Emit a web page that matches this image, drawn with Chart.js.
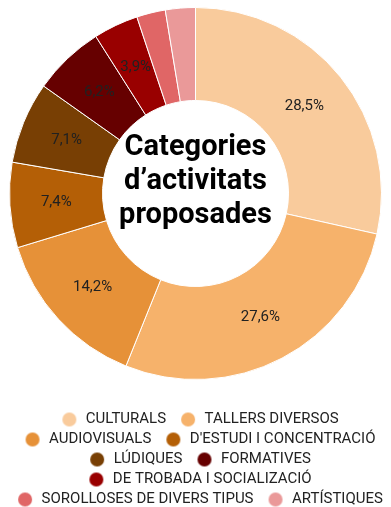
<!DOCTYPE html>
<html>
<head>
<meta charset="utf-8">
<script src="https://cdn.jsdelivr.net/npm/chart.js@4/dist/chart.umd.min.js"></script>
<style>
	body { margin: 0; background: #fff; }
	#wrap { width: 391px; height: 507px; position: relative; }
</style>
</head>
<body>
<div id="wrap"><canvas id="pieChart"></canvas></div>
<script>
// Categories and shares (%)
const categories = ['CULTURALS', 'TALLERS DIVERSOS', 'AUDIOVISUALS', "D'ESTUDI I CONCENTRACIÓ", 'LÚDIQUES', 'FORMATIVES', 'DE TROBADA I SOCIALIZACIÓ', 'SOROLLOSES DE DIVERS TIPUS', 'ARTÍSTIQUES'];
const shares = [28.5, 27.6, 14.2, 7.4, 7.1, 6.2, 3.9, 2.5, 2.6];
const colours = ['#f9cb9c', '#f6b26b', '#e69138', '#b45f06', '#783f04', '#660000', '#990000', '#e06666', '#ea9999'];
const centerLines = ['Categories', 'd\u2019activitats', 'proposades'];

const ctx = document.getElementById('pieChart').getContext('2d');

// legend markers: circle sitting in the right part of a wider box, so items get some air
const markerW = 26;
const markers = colours.map((c) => {
	const m = document.createElement('canvas');
	m.width = markerW;
	m.height = 16;
	const mc = m.getContext('2d');
	mc.fillStyle = c;
	mc.beginPath();
	mc.arc(markerW - 9, 8, 7, 0, Math.PI * 2);
	mc.fill();
	return m;
});

// percent labels inside the slices
const sliceLabels = {
	id: 'sliceLabels',
	afterDatasetsDraw(chart) {
		const { ctx } = chart;
		const meta = chart.getDatasetMeta(0);
		ctx.save();
		ctx.font = '15px Roboto';
		ctx.fillStyle = '#212121';
		ctx.textAlign = 'center';
		ctx.textBaseline = 'middle';
		meta.data.forEach((arc, i) => {
			const v = shares[i];
			if (v < 3.5) return;
			const p = arc.tooltipPosition();
			ctx.fillText(v.toFixed(1).replace('.', ',') + '%', p.x, p.y);
		});
		ctx.restore();
	}
};

// title in the hole
const centerText = {
	id: 'centerText',
	afterDatasetsDraw(chart) {
		const { ctx } = chart;
		const arc = chart.getDatasetMeta(0).data[0];
		ctx.save();
		ctx.font = 'bold 29px Roboto';
		ctx.fillStyle = '#000';
		ctx.textAlign = 'center';
		ctx.textBaseline = 'alphabetic';
		centerLines.forEach((line, i) => {
			ctx.fillText(line, arc.x, arc.y - 39 + i * 34);
		});
		ctx.restore();
	}
};

new Chart(ctx, {
	type: 'doughnut',
	data: {
		labels: categories,
		datasets: [{
			data: shares,
			backgroundColor: colours,
			borderColor: '#fff',
			borderWidth: 1,
			hoverOffset: 0
		}]
	},
	options: {
		responsive: true,
		maintainAspectRatio: false,
		animation: false,
		cutout: '50%',
		layout: { padding: { top: 7, bottom: 0, left: 0, right: 0 } },
		plugins: {
			legend: {
				position: 'bottom',
				maxHeight: 127,
				title: {
					display: true,
					text: ' ',
					padding: { top: 0, bottom: 17 },
					font: { size: 10, lineHeight: 1 }
				},
				labels: {
					usePointStyle: true,
					pointStyleWidth: markerW,
					boxHeight: 14,
					padding: 5,
					color: '#222',
					font: { family: 'Roboto', size: 15 },
					generateLabels(chart) {
						const items = Chart.overrides.doughnut.plugins.legend.labels.generateLabels(chart);
						items.forEach((it, i) => { it.pointStyle = markers[i]; });
						return items;
					}
				}
			},
			tooltip: { enabled: false }
		}
	},
	plugins: [sliceLabels, centerText]
});
</script>
</body>
</html>
